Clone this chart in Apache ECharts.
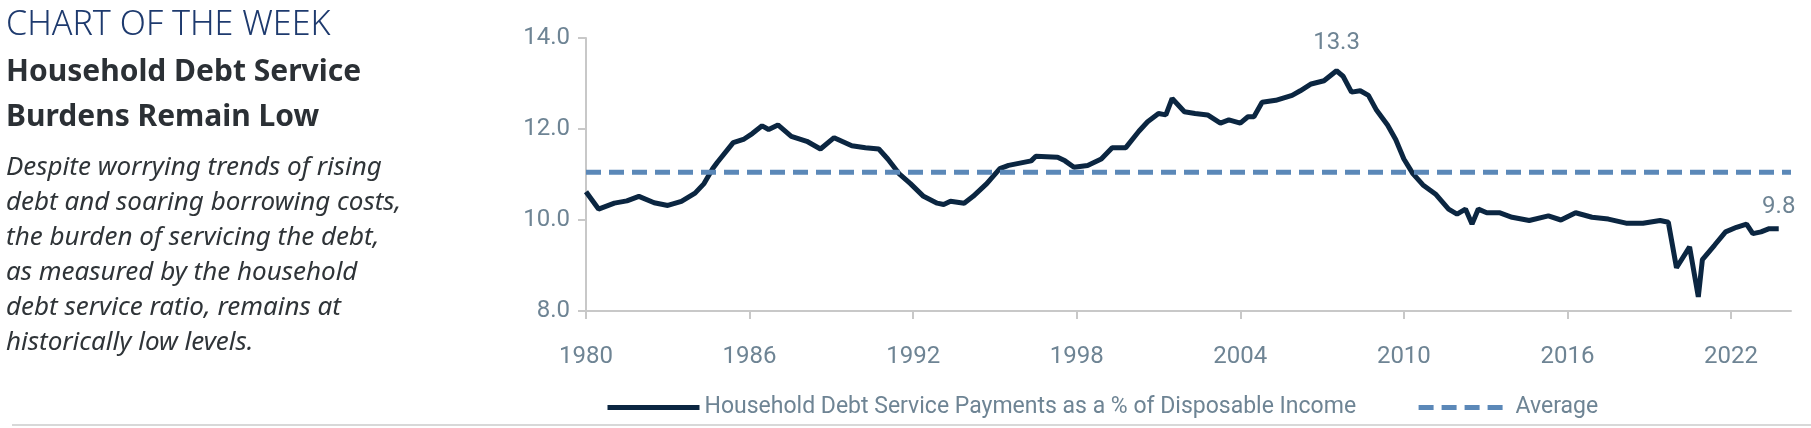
<!DOCTYPE html>
<html><head><meta charset="utf-8">
<script src="https://cdn.jsdelivr.net/npm/echarts@6/dist/echarts.min.js"></script>
<style>html,body{margin:0;padding:0;background:#fff}#c{width:1811px;height:428px}</style>
</head><body><div id="c"></div>
<script>
const years = [1980.0,1980.46,1981.04,1981.5,1981.94,1982.5,1983.0,1983.5,1984.0,1984.33,1984.65,1984.82,1985.4,1985.8,1986.1,1986.46,1986.7,1987.04,1987.53,1988.1,1988.6,1989.1,1989.75,1990.25,1990.74,1991.07,1991.48,1991.9,1992.38,1992.88,1993.12,1993.37,1993.87,1994.2,1994.7,1995.18,1995.5,1996.33,1996.5,1997.3,1997.57,1997.9,1998.4,1998.9,1999.3,1999.8,2000.28,2000.6,2001.0,2001.27,2001.5,2001.95,2002.34,2002.8,2003.27,2003.58,2004.0,2004.28,2004.5,2004.8,2005.3,2005.9,2006.2,2006.6,2007.07,2007.53,2007.77,2008.08,2008.4,2008.7,2009.0,2009.4,2009.7,2010.0,2010.33,2010.7,2011.18,2011.64,2011.95,2012.26,2012.5,2012.73,2013.04,2013.5,2013.97,2014.6,2015.3,2015.76,2016.3,2016.9,2017.5,2018.15,2018.77,2019.4,2019.7,2020.0,2020.48,2020.8,2020.95,2021.4,2021.8,2022.2,2022.57,2022.8,2023.1,2023.4,2023.75];
const ratio = [10.62,10.24,10.37,10.42,10.52,10.38,10.32,10.41,10.59,10.80,11.13,11.27,11.70,11.78,11.90,12.07,11.99,12.09,11.84,11.73,11.56,11.81,11.63,11.59,11.56,11.34,11.02,10.80,10.52,10.37,10.34,10.41,10.37,10.52,10.80,11.13,11.20,11.30,11.40,11.38,11.30,11.16,11.20,11.34,11.59,11.59,11.95,12.16,12.34,12.31,12.67,12.38,12.34,12.31,12.13,12.20,12.13,12.27,12.27,12.59,12.63,12.74,12.84,12.99,13.06,13.28,13.16,12.81,12.84,12.74,12.41,12.09,11.77,11.34,11.02,10.77,10.56,10.24,10.13,10.24,9.91,10.24,10.16,10.16,10.06,9.99,10.09,10.00,10.16,10.06,10.02,9.93,9.93,9.99,9.95,8.95,9.41,8.31,9.13,9.45,9.74,9.84,9.91,9.70,9.74,9.81,9.81];
const average = 11.05;
const xTicks = [1980,1986,1992,1998,2004,2010,2016,2022];
const peakLabel = '13.3', lastLabel = '9.8';

const data = years.map((y,i)=>[y, ratio[i]]);
const peakIdx = ratio.indexOf(Math.max(...ratio));
const chart = echarts.init(document.getElementById('c'));
const axisCol = '#6e8494';
const lf = 'Roboto';
chart.setOption({
  animation:false,
  grid:{left:586, right:20, top:38, bottom:117},
  xAxis:{type:'value', min:1980, max:2024.2, interval:6,
    axisLine:{lineStyle:{color:'#c8c8c8', width:2}},
    axisTick:{show:true, length:8, lineStyle:{color:'#c8c8c8', width:2}},
    splitLine:{show:false},
    axisLabel:{color:axisCol, fontSize:24, fontFamily:lf, margin:34, showMaxLabel:false,
      formatter:v=> xTicks.includes(Math.round(v)) && Math.abs(v-Math.round(v))<1e-6 ? String(Math.round(v)) : ''}},
  yAxis:{type:'value', min:8, max:14, interval:2,
    axisLine:{show:true, lineStyle:{color:'#c8c8c8', width:2}},
    axisTick:{show:true, length:8, lineStyle:{color:'#c8c8c8', width:2}},
    splitLine:{show:false},
    axisLabel:{color:axisCol, fontSize:24, fontFamily:lf, margin:16, formatter:v=>v.toFixed(1)}},
  legend:{bottom:4, left:600, itemWidth:92, itemHeight:14, itemGap:60,
    itemStyle:{opacity:0}, lineStyle:{width:5},
    textStyle:{color:axisCol, fontSize:23, fontFamily:lf},
    data:[{name:'Household Debt Service Payments as a % of Disposable Income'},{name:'Average'}]},
  series:[
    {name:'Household Debt Service Payments as a % of Disposable Income', type:'line', data:data, symbol:'none',
     lineStyle:{color:'#0b2641', width:5}, itemStyle:{color:'#0b2641'},
     markPoint:{symbol:'circle', symbolSize:0, label:{show:true, color:axisCol, fontSize:24, fontFamily:lf},
       data:[{coord:data[peakIdx], value:peakLabel, label:{position:'top', distance:16}},
             {coord:data[data.length-1], value:lastLabel, label:{position:'top', distance:10}}]}},
    {name:'Average', type:'line', data:[[1980,average],[2024.2,average]], symbol:'none',
     lineStyle:{color:'#5b88b8', width:5, type:[15,8]}, itemStyle:{color:'#5b88b8'}}
  ],
  graphic:[
    {type:'text', left:6, top:8, style:{text:'CHART OF THE WEEK', font:'300 34px "Noto Sans"', fill:'#1e3a6e'}},
    {type:'text', left:6, top:50, style:{text:'Household Debt Service\nBurdens Remain Low', font:'bold 30px "Noto Sans"', fill:'#2b3035', lineHeight:45}},
    {type:'text', left:6, top:150, style:{text:'Despite worrying trends of rising\ndebt and soaring borrowing costs,\nthe burden of servicing the debt,\nas measured by the household\ndebt service ratio, remains at\nhistorically low levels.', font:'italic 26px "Noto Sans"', fill:'#2f3438', lineHeight:35}},
    {type:'rect', shape:{x:12, y:424, width:1800, height:2}, style:{fill:'#d8d8d8'}}
  ]
});
</script></body></html>
